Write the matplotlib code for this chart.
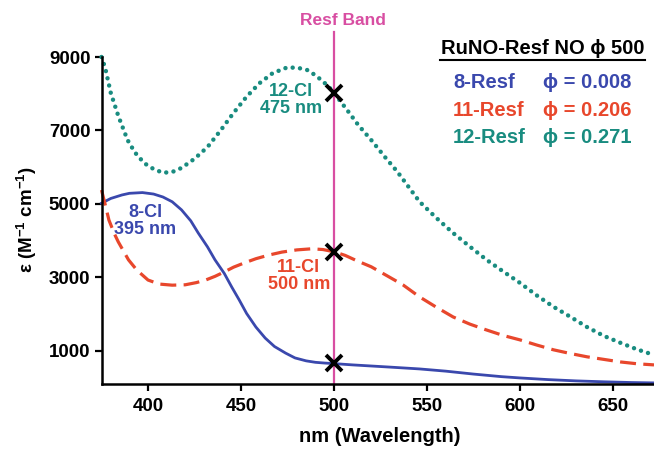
import matplotlib
import matplotlib.pyplot as plt
from matplotlib.lines import Line2D
import matplotlib.transforms as mtransforms

matplotlib.use('agg')

plt.rcParams['font.family'] = ['Liberation Sans', 'DejaVu Sans']
plt.rcParams['font.weight'] = 'bold'
plt.rcParams['mathtext.fontset'] = 'custom'
plt.rcParams['mathtext.bf'] = 'Liberation Sans:bold'
plt.rcParams['mathtext.rm'] = 'Liberation Sans:bold'

# 8-Resf (solid blue)
wl_8 = [375, 380, 386, 390, 397, 403, 408, 413, 418, 423, 427, 432, 436, 441, 445,
        449, 453, 458, 463, 468, 474, 479, 485, 490, 495, 500, 510, 520, 530, 546,
        560, 575, 590, 600, 615, 630, 645, 660, 672]
eps_8 = [5020, 5150, 5245, 5290, 5310, 5270, 5190, 5060, 4840, 4540, 4210, 3830, 3480, 3110, 2740,
         2390, 2020, 1650, 1350, 1120, 940, 810, 730, 690, 670, 655, 620, 590, 560, 510,
         450, 370, 300, 265, 220, 185, 160, 140, 130]

# 11-Resf (dashed red)
wl_11 = [375, 377, 379, 382, 384, 389.5, 394, 400, 406, 413, 420, 426, 431, 436, 441,
         446, 452, 458, 465, 472, 480, 488, 494, 500, 506, 512, 520, 528, 537, 546,
         555, 564, 573, 582, 591, 600, 609, 618, 627, 636, 645, 654, 663, 672]
eps_11 = [5380, 4980, 4560, 4180, 3970, 3480, 3200, 2930, 2820, 2790, 2800, 2860, 2930, 3030, 3150,
          3280, 3400, 3510, 3610, 3690, 3750, 3780, 3760, 3700, 3600, 3460, 3290, 3060, 2800, 2470,
          2190, 1925, 1730, 1570, 1420, 1300, 1160, 1030, 930, 840, 770, 700, 650, 620]

# 12-Resf (dotted teal)
wl_12 = [375, 377, 380, 384, 389, 393, 398, 403, 408, 413, 418, 425, 432, 439, 446,
         453, 460, 467, 475, 481, 486, 490, 493, 497, 500, 507, 513, 520, 527, 534,
         540, 546, 555, 564, 573, 582, 591, 600, 609, 618, 627, 636, 645, 654, 663, 672]
eps_12 = [9000, 8700, 8020, 7400, 6740, 6400, 6110, 5950, 5850, 5870, 5980, 6230, 6550, 7000, 7480,
          7920, 8290, 8560, 8720, 8700, 8640, 8500, 8380, 8200, 8020, 7560, 7150, 6740, 6300, 5880,
          5470, 5060, 4620, 4210, 3840, 3480, 3160, 2850, 2510, 2200, 1930, 1650, 1410, 1220, 1040, 890]

# crossings with the Resf band
band_nm = 500
cross_eps = [8020, 3700, 670]

x_ticks = [400, 450, 500, 550, 600, 650]
y_ticks = [1000, 3000, 5000, 7000, 9000]

names = ['8-Resf', '11-Resf', '12-Resf']
phis = ['0.008', '0.206', '0.271']

blue = '#3a48ad'
red = '#e8472c'
teal = '#198c80'
pink = '#d84ea2'

W, H = 654, 454


def fx(px):
    return px / W


def fy(py):
    return 1 - py / H


fig = plt.figure(figsize=(W / 100, H / 100), dpi=100)
ax = fig.add_axes([fx(101.5), fy(384), (W - 101.5) / W, (384 - 57) / H])

ax.plot(wl_8, eps_8, color=blue, lw=2.0, clip_on=False)
ax.plot(wl_11, eps_11, color=red, lw=2.3, dashes=(5.0, 2.3), clip_on=False)
ax.plot(wl_12, eps_12, color=teal, lw=3.2, linestyle=(0, (0.01, 1.65)),
        dash_capstyle='round', clip_on=False)

# Resf band line, reaching above the axes
trans = mtransforms.blended_transform_factory(ax.transData, ax.transAxes)
ax.plot([band_nm, band_nm], [0, 1.076], color=pink, lw=1.6, transform=trans,
        clip_on=False, zorder=1)
ax.text(505, 1.113, 'Resf Band', color=pink, fontsize=12.5, ha='center', va='center',
        transform=trans)

ax.plot([band_nm] * 3, cross_eps, linestyle='none', marker='x', color='black',
        markersize=12, mew=2.8, zorder=5, clip_on=False)

ax.set_xlim(375, 672)
ax.set_ylim(100, 9000)
ax.set_xticks(x_ticks)
ax.set_yticks(y_ticks)
ax.tick_params(labelsize=13.5, width=1.6, length=5, direction='out')
ax.tick_params(axis='x', pad=5)
ax.tick_params(axis='y', pad=3)
for side in ['top', 'right']:
    ax.spines[side].set_visible(False)
for side in ['left', 'bottom']:
    ax.spines[side].set_linewidth(1.8)

# band labels
ax.text(477, 7830, '12-Cl\n475 nm', color=teal, fontsize=13, ha='center', va='center',
        linespacing=1.0)
ax.text(398.5, 4540, '8-Cl\n395 nm', color=blue, fontsize=13, ha='center', va='center',
        linespacing=1.0)
ax.text(481, 3030, '11-Cl\n500 nm', color=red, fontsize=13, ha='center', va='center',
        linespacing=1.0)

fig.text(fx(380), fy(436), 'nm (Wavelength)', fontsize=14.5, ha='center', va='center')
fig.text(fx(27), fy(220), r'ε (M$^{\mathbf{-1}}$ cm$^{\mathbf{-1}}$)', fontsize=13.5,
         rotation=90, ha='center', va='center')

# quantum yield box
fig.text(fx(542.5), fy(49), 'RuNO-Resf NO ϕ 500', fontsize=14.5, ha='center', va='center')
fig.add_artist(Line2D([fx(440), fx(645)], [fy(60), fy(60)], color='black', lw=1.5))
row_y = [82, 110, 138]
for name, phi, col, yy in zip(names, phis, [blue, red, teal], row_y):
    fig.text(fx(453), fy(yy), name, color=col, fontsize=14.5, ha='left', va='center')
    fig.text(fx(543), fy(yy), 'ϕ = ' + phi, color=col, fontsize=14.5, ha='left', va='center')

fig.savefig('out.png', dpi=100)
